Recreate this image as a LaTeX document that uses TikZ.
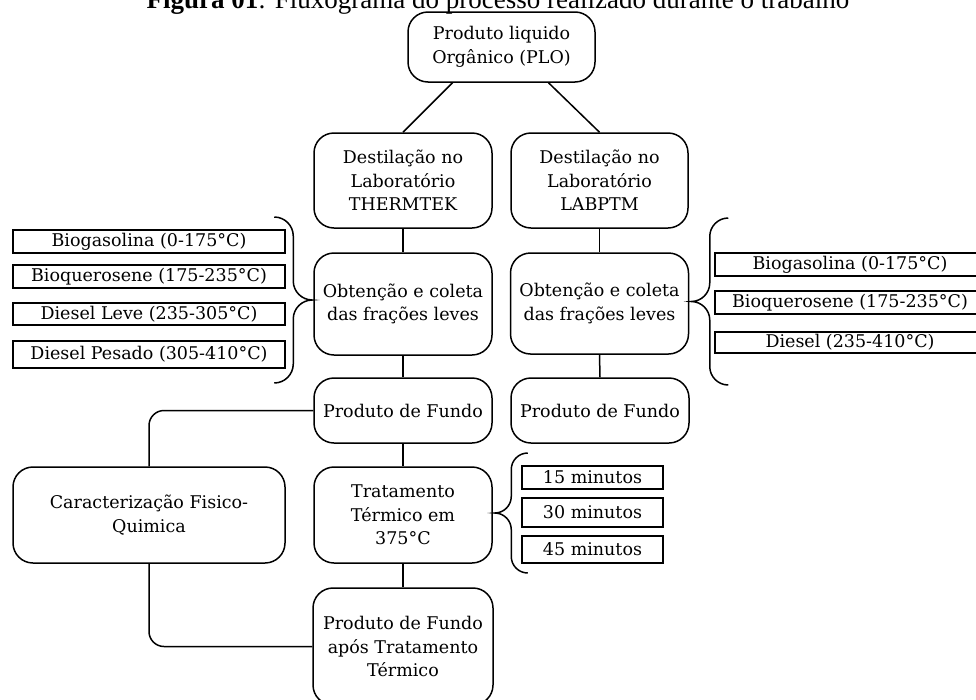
\documentclass[tikz,border=0pt]{standalone}
\usepackage{fontspec}
\setmainfont{DejaVu Serif}
\newfontfamily\titlefont{Liberation Serif}
\usetikzlibrary{calc}

\tikzset{
  rbox/.style={draw, line width=1.5pt, rounded corners=20pt, align=center, inner sep=2pt,
               font=\fontsize{17.5}{23.5}\selectfont},
  sbox/.style={draw, line width=1.7pt, inner sep=0pt, font=\fontsize{17.5}{21}\selectfont},
  conn/.style={line width=1.5pt},
}

\newcommand{\curlybrace}[4]{%
  \begin{scope}[shift={(#1)}, xscale=#4]
    \draw[conn] ({-2*#3},{-#2}) .. controls ({-1.45*#3},{-#2}) and ({-#3},{-#2+0.45*#3}) .. ({-#3},{-#2+#3})
      -- ({-#3},{-#3}) .. controls ({-#3},{-0.45*#3}) and ({-0.55*#3},0) .. (0,0)
      .. controls ({-0.55*#3},0) and ({-#3},{0.45*#3}) .. ({-#3},{#3})
      -- ({-#3},{#2-#3}) .. controls ({-#3},{#2-0.45*#3}) and ({-1.45*#3},{#2}) .. ({-2*#3},{#2});
  \end{scope}}

\begin{document}
\begin{tikzpicture}[x=1pt, y=-1pt]
\useasboundingbox (0,0) rectangle (976,699);
\clip (0,0) rectangle (976,699);

% title (its top is cut by the page edge)
\node[anchor=base, font=\titlefont\fontsize{27}{32}\selectfont, inner sep=0pt] (title) at (498,8)
  {\textbf{Figura 01}: Fluxograma do processo realizado durante o trabalho};

% main boxes
\node[rbox, minimum width=187pt, minimum height=70pt] (plo) at (501.5,47) {Produto liquido\\Orgânico (PLO)};
\node[rbox, minimum width=178pt, minimum height=95pt] (d1) at (403,180.5) {Destilação no\\Laboratório\\THERMTEK};
\node[rbox, minimum width=177pt, minimum height=95pt] (d2) at (599.5,180.5) {Destilação no\\Laboratório\\LABPTM};
\node[rbox, minimum width=178pt, minimum height=102pt] (o1) at (403,304) {Obtenção e coleta\\das frações leves};
\node[rbox, minimum width=178pt, minimum height=101pt] (o2) at (599.5,303.5) {Obtenção e coleta\\das frações leves};
\node[rbox, minimum width=178pt, minimum height=65pt] (p1) at (403,410.5) {Produto de Fundo};
\node[rbox, minimum width=178pt, minimum height=65pt] (p2) at (600,410.5) {Produto de Fundo};
\node[rbox, minimum width=178pt, minimum height=96pt] (t) at (403,515) {Tratamento\\Térmico em\\375°C};
\node[rbox, minimum width=180pt, minimum height=117pt] (pa) at (403,646.5) {Produto de Fundo\\após Tratamento\\Térmico};
\node[rbox, minimum width=272pt, minimum height=96pt] (car) at (149,515) {Caracterização Fisico-\\Quimica};

% left fraction boxes
\node[sbox, minimum width=272pt, minimum height=23pt] (lb1) at (149,241.5) {Biogasolina (0-175°C)};
\node[sbox, minimum width=272pt, minimum height=23pt] (lb2) at (149,276.5) {Bioquerosene (175-235°C)};
\node[sbox, minimum width=272pt, minimum height=22pt] (lb3) at (149,314) {Diesel Leve (235-305°C)};
\node[sbox, minimum width=272pt, minimum height=27pt] (lb4) at (149,354.5) {Diesel Pesado (305-410°C)};

% right fraction boxes
\node[sbox, minimum width=270pt, minimum height=23pt] (rb1) at (850,264.5) {Biogasolina (0-175°C)};
\node[sbox, minimum width=270pt, minimum height=23pt] (rb2) at (850,302.5) {Bioquerosene (175-235°C)};
\node[sbox, minimum width=270pt, minimum height=21pt] (rb3) at (850,342.5) {Diesel (235-410°C)};

% time boxes
\node[sbox, minimum width=141pt, minimum height=23pt] (m1) at (592.5,477.5) {15 minutos};
\node[sbox, minimum width=141pt, minimum height=29pt] (m2) at (592.5,512.5) {30 minutos};
\node[sbox, minimum width=141pt, minimum height=27pt] (m3) at (592.5,549.5) {45 minutos};

% connectors
\draw[conn] ($(plo.south)+(-49,0)$) -- (d1.north);
\draw[conn] ($(plo.south)+(47,0)$) -- (d2.north);
\draw[conn] (d1.south) -- (o1.north);
\draw[conn] (o1.south) -- (p1.north);
\draw[conn] (p1.south) -- (t.north);
\draw[conn] (t.south) -- (pa.north);
\draw[conn] (d2.south) -- (o2.north);
\draw[conn] (o2.south) -- (p2.north);
\draw[conn, rounded corners=15pt] (p1.west) -| (car.north);
\draw[conn, rounded corners=15pt] (car.south) |- (pa.west);

% braces
\curlybrace{$(o1.west)+(-1,-4)$}{83}{19}{1}
\curlybrace{$(o2.east)+(2,-2)$}{83.5}{18.5}{-1}
\curlybrace{$(t.east)+(2,-2)$}{60}{16.5}{-1}
\end{tikzpicture}
\end{document}
